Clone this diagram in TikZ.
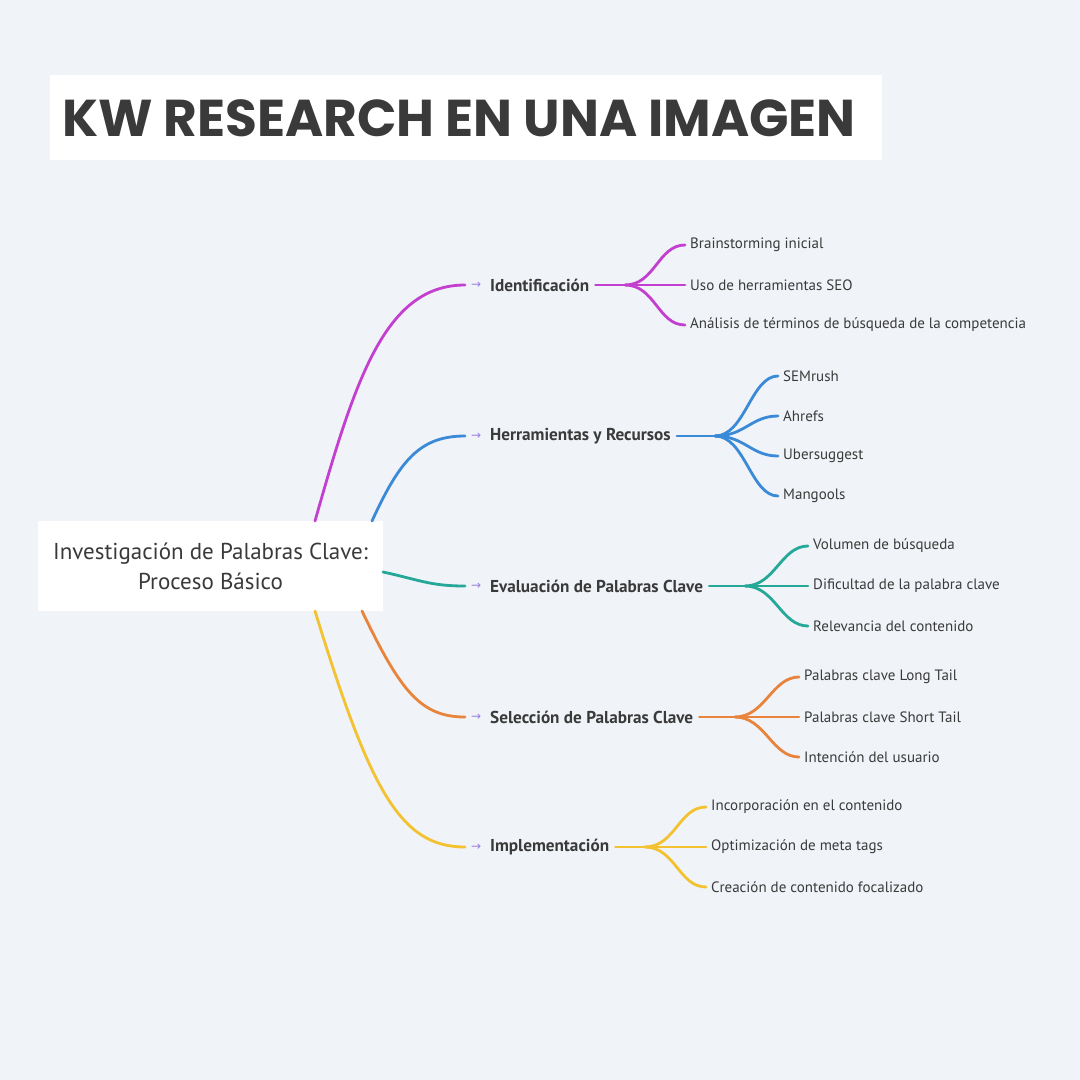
\documentclass[tikz,border=0pt]{standalone}
\usepackage{fontspec}
\setmainfont{PT Sans}
\newfontfamily\titlefont{Poppins}
\newfontfamily\symfont{DejaVu Sans}
\definecolor{bg}{HTML}{F0F3F7}
\definecolor{txt}{HTML}{3A3A3A}
\definecolor{cP}{HTML}{C33FD0}
\definecolor{cB}{HTML}{3A8AD8}
\definecolor{cT}{HTML}{25A898}
\definecolor{cO}{HTML}{E8843C}
\definecolor{cY}{HTML}{F2C230}
\definecolor{arr}{HTML}{9A7FE0}
\begin{document}
\begin{tikzpicture}[x=1pt,y=-1pt,
  lbl/.style={anchor=west,inner sep=0pt,font=\fontsize{17.2}{20}\selectfont\bfseries,text=txt},
  leaf/.style={anchor=west,inner sep=0pt,font=\fontsize{15}{18}\selectfont,text=txt},
  arrw/.style={anchor=west,inner sep=0pt,font=\symfont\fontsize{12}{14}\selectfont,text=arr},
  wire/.style={line width=2.8pt,line cap=round}]
\fill[bg] (0,0) rectangle (1080,1080);
\useasboundingbox (0,0) rectangle (1080,1080);
\fill[white] (50,75) rectangle (882,160);
\node[anchor=west,inner sep=0pt,font=\titlefont\bfseries\fontsize{51.8}{56}\selectfont,text=txt] (title) at (62,118) {KW RESEARCH EN UNA IMAGEN};
\node[fill=white,minimum width=345pt,minimum height=90pt,inner sep=0pt,align=center,font=\fontsize{23}{30}\selectfont,text=txt] (root) at (210.5,566) {Investigación de Palabras Clave:\\Proceso Básico};
\coordinate (sP) at (315,521);
\coordinate (sB) at (372,521);
\coordinate (sT) at (383,572);
\coordinate (sO) at (362,611);
\coordinate (sY) at (315,611);
\foreach \n/\y/\t in {P/285/Identificación,B/436/Herramientas y Recursos,T/586/Evaluación de Palabras Clave,O/717/Selección de Palabras Clave,Y/847/Implementación}{
  \node[arrw] (a\n) at (471,\y) {→};
  \coordinate (e\n) at (465,\y);
  \node[lbl] (l\n) at (490,\y) {\t};
}
\draw[wire,cP] (sP) .. controls (355,380) and (385,285) .. (eP);
\draw[wire,cB] (sB) .. controls (400,460) and (420,436) .. (eB);
\draw[wire,cT] (sT) .. controls (420,580) and (430,586) .. (eT);
\draw[wire,cO] (sO) .. controls (400,690) and (420,717) .. (eO);
\draw[wire,cY] (sY) .. controls (370,790) and (400,847) .. (eY);
\coordinate (fP) at (625,285);
\coordinate (fB) at (715,436);
\coordinate (fT) at (745,586);
\coordinate (fO) at (735,717);
\coordinate (fY) at (645,847);
\draw[wire,cP] ([xshift=6pt]lP.east) -- (fP);
\draw[wire,cB] ([xshift=6pt]lB.east) -- (fB);
\draw[wire,cT] ([xshift=6pt]lT.east) -- (fT);
\draw[wire,cO] ([xshift=6pt]lO.east) -- (fO);
\draw[wire,cY] ([xshift=6pt]lY.east) -- (fY);
\foreach \c/\x/\y/\t [count=\i] in {
 P/690/245/Brainstorming inicial,
 P/690/285/Uso de herramientas SEO,
 P/690/325/Análisis de términos de búsqueda de la competencia,
 B/783/376/SEMrush,
 B/783/416/Ahrefs,
 B/783/456/Ubersuggest,
 B/783/496/Mangools,
 T/813/546/Volumen de búsqueda,
 T/813/586/Dificultad de la palabra clave,
 T/813/626/Relevancia del contenido,
 O/804/677/Palabras clave Long Tail,
 O/804/717/Palabras clave Short Tail,
 O/804/757/Intención del usuario,
 Y/711/807/Incorporación en el contenido,
 Y/711/847/Optimización de meta tags,
 Y/711/887/Creación de contenido focalizado}{
  \node[leaf] (leaf\i) at (\x,\y) {\t};
  \draw[wire,c\c] (f\c) .. controls ([xshift=30pt]f\c) and ([xshift=-32pt]leaf\i.west) .. ([xshift=-5pt]leaf\i.west);
}
\end{tikzpicture}
\end{document}
